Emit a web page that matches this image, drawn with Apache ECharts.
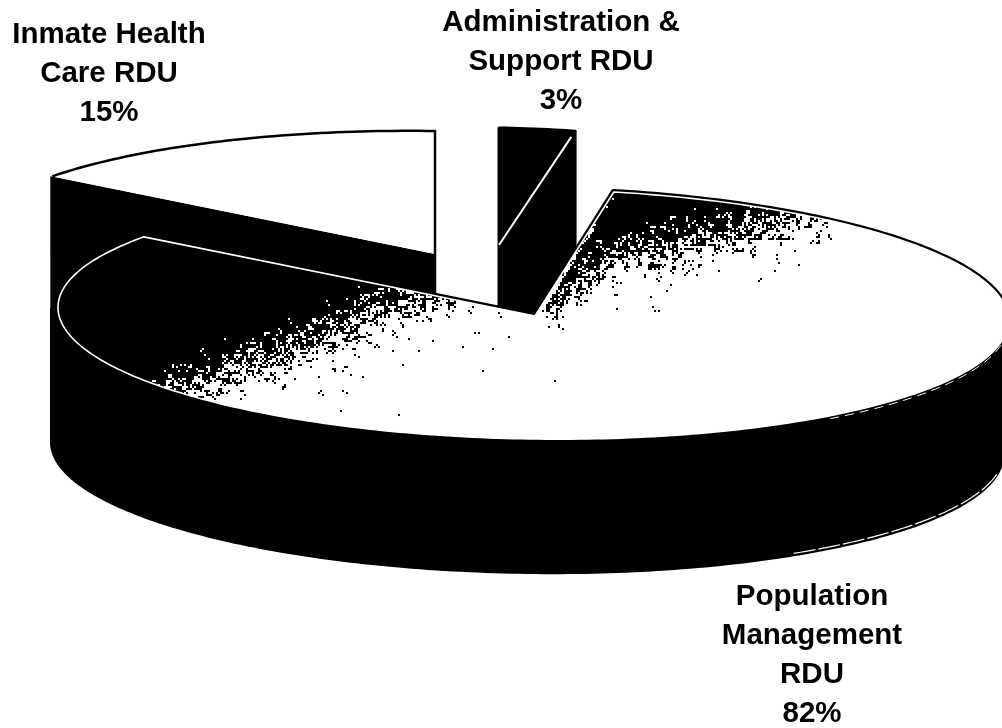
<!DOCTYPE html>
<html>
<head>
<meta charset="utf-8">
<title>RDU share</title>
<script src="https://cdn.jsdelivr.net/npm/echarts@6/dist/echarts.min.js"></script>
<style>
  html, body { margin: 0; padding: 0; background: #fff; }
  #chart { width: 1002px; height: 728px; }
</style>
</head>
<body>
<div id="chart"></div>
<script>
// values as printed on the chart, clockwise from 12 o'clock
const categories = ['Administration & Support RDU', 'Population Management RDU', 'Inmate Health Care RDU']
const values = [3, 82, 15]
const labelLines = [
  ['Administration &', 'Support RDU'],
  ['Population', 'Management', 'RDU'],
  ['Inmate Health', 'Care RDU']
]

// back slices are drawn first, the big one covers them
const drawOrder = [2, 0, 1]

// projection of each exploded slice. cx/cy = ellipse centre, ax/ay = tip, turn = small perspective fix in degrees
const sliceShape = [
  {cx: 499, cy: 245, ax: 499, ay: 245, rx: 406, ry: 117, turn: 0},
  {cx: 533, cy: 314, ax: 535, ay: 316, rx: 475, ry: 125, turn: -1},
  {cx: 435, cy: 254, ax: 435, ay: 254, rx: 473, ry: 123, turn: 0}
]
const labelPos = [[561, 3], [812, 577], [109, 15]]
const depth = 137
const tilt = 0.014
const wallShape = {cx: 527, cy: 449, rx: 477, ry: 125}

// angles of every slice from the values
const total = values.reduce((a, b) => a + b, 0)
const angles = []
let acc = 0
values.forEach(v => {
  angles.push([acc / total * 360, (acc + v) / total * 360])
  acc += v
})

const rimPoint = (g, deg) => {
  const r = deg * Math.PI / 180
  const dx = g.rx * Math.sin(r)
  return [g.cx + dx, g.cy - g.ry * Math.cos(r) + tilt * dx]
}

const rimArc = (g, from, to) => {
  const pts = []
  const n = Math.max(2, Math.ceil(Math.abs(to - from)))
  for (let i = 0; i <= n; i++) {
    pts.push(rimPoint(g, from + (to - from) * i / n))
  }
  return pts
}

const down = (p) => [p[0], p[1] + depth]

// scanner-like stipple for the shading of the big slice
const clamp = (v) => Math.max(0, Math.min(1, v))
const grain = (x, y) => {
  const s = Math.sin(x * 12.9898 + y * 78.233) * 43758.5453
  return s - Math.floor(s)
}
const blotch = (x, y) => 0.6 * grain(x, y) + 0.4 * grain(Math.floor(x / 6), Math.floor(y / 6))
const shadeAt = (x, y) => {
  const s1 = (x - 220) * 0.362 + (y - 375) * 0.932
  let p1 = clamp(0.5 - s1 / 80)
  if (s1 > 0) p1 = Math.max(p1, 0.2 * Math.exp(-s1 / 45))
  let p2 = 0
  if (x - 538 > (316 - y) * 0.63) {
    const y0 = 262 - 0.2 * (x - 600) + Math.max(0, 600 - x) * 0.8
    const s2 = y - y0
    p2 = clamp(0.5 - s2 / 80)
    if (s2 > 0) p2 = Math.max(p2, 0.22 * Math.exp(-s2 / 35))
    p2 *= Math.min(1, 0.25 + clamp((870 - x) / 150)) * clamp((875 - x) / 40) * clamp((335 - y) / 30)
  }
  return Math.max(p1, p2)
}
const makeShade = () => {
  const cv = document.createElement('canvas')
  cv.width = 1002
  cv.height = 728
  const ctx = cv.getContext('2d')
  ctx.fillStyle = '#fff'
  ctx.fillRect(0, 0, 1002, 728)
  ctx.fillStyle = '#000'
  for (let y = 0; y < 728; y += 2) {
    for (let x = 0; x < 1002; x += 2) {
      if (blotch(x, y) < shadeAt(x, y)) ctx.fillRect(x, y, 2, 2)
    }
  }
  return cv
}
const shade = makeShade()

const textEl = (i) => ({
  type: 'text',
  z2: 50,
  style: {
    text: labelLines[i].concat(values[i] + '%').join('\n'),
    x: labelPos[i][0],
    y: labelPos[i][1],
    fill: '#000',
    font: 'bold 29.5px "Liberation Sans", Arial, sans-serif',
    lineHeight: 39,
    align: 'center',
    verticalAlign: 'top'
  }
})

const adminEls = (i, base) => {
  const g = sliceShape[i]
  const [a0, a1] = angles[i]
  const tip = [g.ax, g.ay]
  const arc = rimArc(g, a0, a1)
  const last = arc[arc.length - 1]
  const inner = [last[0] + (tip[0] - last[0]) * 0.05, last[1] + (tip[1] - last[1]) * 0.05]
  return [
    {type: 'polygon', z2: base, shape: {points: [tip, down(tip), down(last), last]},
      style: {fill: '#000', stroke: '#000', lineWidth: 3, lineJoin: 'round'}},
    {type: 'polygon', z2: base + 1, shape: {points: [tip].concat(arc)},
      style: {fill: '#000', stroke: '#000', lineWidth: 3, lineJoin: 'round'}},
    {type: 'polyline', z2: base + 2, shape: {points: [inner, tip]},
      style: {fill: null, stroke: '#fff', lineWidth: 2}}
  ]
}

const healthEls = (i, base) => {
  const g = sliceShape[i]
  const [a0, a1] = angles[i]
  const tip = [g.ax, g.ay]
  const arc = rimArc(g, a0, a1)
  const first = arc[0]
  return [
    {type: 'polygon', z2: base, shape: {points: [[first[0] - 2, first[1]], tip, down(tip), [first[0] - 2, first[1] + depth]]},
      style: {fill: '#000'}},
    {type: 'polygon', z2: base + 1, shape: {points: [tip].concat(arc)},
      style: {fill: '#fff'}},
    {type: 'polyline', z2: base + 2, shape: {points: arc.concat([down(tip)])},
      style: {fill: null, stroke: '#000', lineWidth: 2.5}}
  ]
}

const mainEls = (i, base) => {
  const g = sliceShape[i]
  const [a0, a1] = angles[i]
  const surface = [[g.ax, g.ay]].concat(rimArc(g, a0, a1))
  const wallBottom = rimArc(wallShape, 90, 270)
  const wallTop = [[wallShape.cx - wallShape.rx, g.cy - 6], [wallShape.cx + wallShape.rx, g.cy + 7]]
  const wall = [wallTop[1]].concat(wallBottom, [wallTop[0]])
  const upperDash = rimArc({cx: g.cx, cy: g.cy + 3, rx: g.rx, ry: g.ry}, 100, 142)
  const lowerDash = rimArc({cx: wallShape.cx, cy: wallShape.cy - 3, rx: wallShape.rx, ry: wallShape.ry}, 100, 146)
  return [
    {type: 'polygon', z2: base, shape: {points: wall}, style: {fill: '#000'}},
    {type: 'polygon', z2: base + 1, shape: {points: surface},
      style: {fill: null, stroke: '#000', lineWidth: 6, lineJoin: 'round'}},
    {type: 'polygon', z2: base + 2, shape: {points: surface},
      style: {fill: {image: shade, repeat: 'no-repeat'}, stroke: '#fff', lineWidth: 1.6, lineJoin: 'round'}},
    {type: 'polyline', z2: base + 3, shape: {points: upperDash},
      style: {fill: null, stroke: '#fff', lineWidth: 1, lineDash: [9, 6]}},
    {type: 'polyline', z2: base + 3, shape: {points: lowerDash},
      style: {fill: null, stroke: '#fff', lineWidth: 1.2, lineDash: [22, 3]}}
  ]
}

const sliceEls = [adminEls, mainEls, healthEls]

const chart = echarts.init(document.getElementById('chart'))
chart.setOption({
  backgroundColor: '#fff',
  animation: false,
  series: [{
    type: 'custom',
    coordinateSystem: 'none',
    silent: true,
    data: drawOrder.map(i => ({name: categories[i], value: [i, values[i]]})),
    renderItem: (params, api) => {
      const i = api.value(0)
      const base = params.dataIndex * 10
      // turn only shifts the drawn angle, the span still comes from the value
      const saved = angles[i]
      const t = sliceShape[i].turn
      angles[i] = [saved[0] + t, saved[1] + t]
      const children = sliceEls[i](i, base)
      angles[i] = saved
      children.push(textEl(i))
      return {type: 'group', children: children}
    }
  }]
})
</script>
</body>
</html>
